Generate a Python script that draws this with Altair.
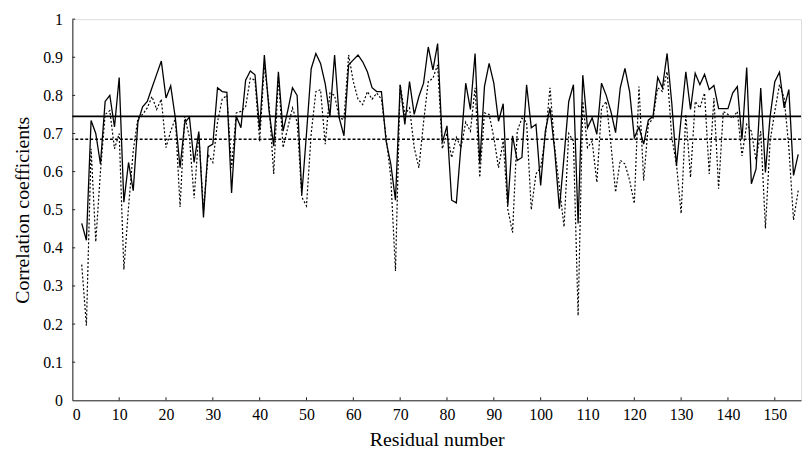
import altair as alt
import pandas as pd

residue = list(range(2, 156))

solid = [
    0.464, 0.42, 0.734, 0.70, 0.62, 0.784, 0.80, 0.717, 0.847, 0.52,
    0.624, 0.55, 0.73, 0.77, 0.784, 0.82, 0.855, 0.89, 0.793, 0.825,
    0.74, 0.61, 0.728, 0.743, 0.624, 0.705, 0.48, 0.665, 0.672, 0.82,
    0.81, 0.808, 0.544, 0.745, 0.715, 0.84, 0.864, 0.854, 0.71, 0.906,
    0.76, 0.667, 0.862, 0.706, 0.76, 0.82, 0.80, 0.54, 0.70, 0.87,
    0.91, 0.884, 0.83, 0.745, 0.906, 0.74, 0.694, 0.88, 0.893, 0.906,
    0.888, 0.862, 0.82, 0.81, 0.81, 0.68, 0.62, 0.525, 0.828, 0.724,
    0.836, 0.75, 0.797, 0.832, 0.927, 0.867, 0.936, 0.676, 0.72, 0.525,
    0.518, 0.67, 0.832, 0.763, 0.91, 0.62, 0.823, 0.884, 0.832, 0.732,
    0.778, 0.512, 0.694, 0.629, 0.637, 0.828, 0.715, 0.724, 0.564, 0.706,
    0.767, 0.655, 0.503, 0.64, 0.784, 0.828, 0.464, 0.853, 0.715, 0.741,
    0.698, 0.832, 0.80, 0.758, 0.702, 0.82, 0.871, 0.81, 0.689, 0.717,
    0.672, 0.735, 0.745, 0.847, 0.82, 0.91, 0.78, 0.615, 0.74, 0.862,
    0.763, 0.858, 0.828, 0.855, 0.815, 0.826, 0.765, 0.765, 0.765, 0.806,
    0.823, 0.685, 0.873, 0.568, 0.607, 0.819, 0.598, 0.745, 0.836, 0.861,
    0.767, 0.815, 0.59, 0.645,
]

dotted = [
    0.356, 0.196, 0.66, 0.416, 0.60, 0.75, 0.76, 0.66, 0.70, 0.343,
    0.507, 0.655, 0.74, 0.75, 0.767, 0.797, 0.763, 0.79, 0.663, 0.706,
    0.74, 0.507, 0.745, 0.69, 0.53, 0.70, 0.50, 0.645, 0.624, 0.73,
    0.79, 0.80, 0.61, 0.754, 0.758, 0.77, 0.845, 0.84, 0.68, 0.88,
    0.776, 0.594, 0.85, 0.663, 0.715, 0.767, 0.73, 0.533, 0.51, 0.70,
    0.81, 0.815, 0.672, 0.806, 0.80, 0.74, 0.737, 0.906, 0.836, 0.79,
    0.776, 0.81, 0.79, 0.806, 0.79, 0.69, 0.585, 0.339, 0.828, 0.75,
    0.767, 0.663, 0.61, 0.73, 0.836, 0.845, 0.88, 0.66, 0.70, 0.637,
    0.69, 0.663, 0.73, 0.706, 0.82, 0.585, 0.754, 0.75, 0.69, 0.61,
    0.68, 0.50, 0.44, 0.706, 0.74, 0.73, 0.50, 0.594, 0.61, 0.69,
    0.82, 0.663, 0.56, 0.455, 0.70, 0.68, 0.222, 0.784, 0.663, 0.68,
    0.572, 0.767, 0.784, 0.672, 0.546, 0.63, 0.62, 0.577, 0.516, 0.823,
    0.577, 0.724, 0.74, 0.82, 0.81, 0.862, 0.69, 0.62, 0.49, 0.75,
    0.585, 0.784, 0.767, 0.806, 0.594, 0.793, 0.555, 0.758, 0.75, 0.74,
    0.758, 0.641, 0.724, 0.706, 0.629, 0.706, 0.451, 0.68, 0.758, 0.828,
    0.793, 0.663, 0.473, 0.55,
]

mean_solid = 0.745
mean_dotted = 0.685

x_ticks = list(range(0, 151, 10))
y_ticks = [0.0, 0.1, 0.2, 0.3, 0.4, 0.5, 0.6, 0.7, 0.8, 0.9, 1.0]

x_title = "Residual number"
y_title = "Correlation coefficients"

FONT = "Liberation Serif"
X_MAX = 155.6

df = pd.DataFrame({"residue": residue, "solid": solid, "dotted": dotted})

xscale = alt.Scale(domain=[0, X_MAX], nice=False, zero=False)
yscale = alt.Scale(domain=[0, 1], nice=False)

x_axis = alt.Axis(
    values=x_ticks, grid=False, ticks=False, tickSize=0, domainColor="#222",
    domainWidth=1, labelFont=FONT, labelFontSize=16, labelColor="#000",
    labelPadding=6, labelOverlap=False, title=x_title, titleFont=FONT,
    titleFontSize=20, titleFontWeight="normal", titleColor="#000", titlePadding=8,
)
y_axis = alt.Axis(
    values=y_ticks, grid=False, ticks=False, tickSize=0, domainColor="#222",
    domainWidth=1, labelFont=FONT, labelFontSize=16, labelColor="#000",
    labelPadding=10, labelOverlap=False,
    labelExpr="datum.value == 0 ? '0' : (datum.value == 1 ? '1' : format(datum.value, '.1f'))",
    title=y_title, titleFont=FONT, titleFontSize=20, titleFontWeight="normal",
    titleColor="#000", titlePadding=10,
)


def X(field):
    return alt.X(field, scale=xscale, axis=x_axis)


def Y(field):
    return alt.Y(field, scale=yscale, axis=y_axis)


base = alt.Chart(df)

solid_line = base.mark_line(color="#000", strokeWidth=1.3).encode(
    x=X("residue:Q"), y=Y("solid:Q"),
)
dotted_line = base.mark_line(color="#000", strokeWidth=1.2, strokeDash=[2, 2]).encode(
    x=X("residue:Q"), y=Y("dotted:Q"),
)

mean_df = pd.DataFrame({"m_solid": [mean_solid], "m_dotted": [mean_dotted]})
mean_solid_rule = alt.Chart(mean_df).mark_rule(color="#000", strokeWidth=1.6).encode(
    y=Y("m_solid:Q")
)
mean_dotted_rule = alt.Chart(mean_df).mark_rule(
    color="#000", strokeWidth=1.4, strokeDash=[3, 2]
).encode(y=Y("m_dotted:Q"))

# inward tick marks
xt_df = pd.DataFrame({"xv": x_ticks[1:], "y0": [0.0] * (len(x_ticks) - 1),
                      "y1": [0.008] * (len(x_ticks) - 1)})
yt_df = pd.DataFrame({"yv": y_ticks[1:], "x0": [0.0] * (len(y_ticks) - 1),
                      "x1": [0.6] * (len(y_ticks) - 1)})
x_tick_rules = alt.Chart(xt_df).mark_rule(color="#222", strokeWidth=1).encode(
    x=X("xv:Q"), y=Y("y0:Q"), y2="y1:Q"
)
y_tick_rules = alt.Chart(yt_df).mark_rule(color="#222", strokeWidth=1).encode(
    y=Y("yv:Q"), x=X("x0:Q"), x2="x1:Q"
)

chart = alt.layer(
    mean_solid_rule, mean_dotted_rule, dotted_line, solid_line,
    x_tick_rules, y_tick_rules,
).properties(
    width=736, height=385,
    padding={"left": 65, "top": 9, "right": 2, "bottom": 54},
    autosize=alt.AutoSizeParams(type="none"),
).configure_view(stroke=None).configure(background="#ffffff")

chart.save("out.html", embed_options={"renderer": "svg", "actions": False})
